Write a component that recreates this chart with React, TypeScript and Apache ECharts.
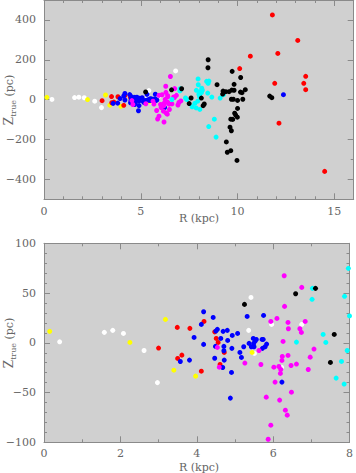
import React, { useEffect, useRef } from "react";
import * as echarts from "echarts";

type P = [number, number];

const white: P[] = [[0.41,1],[1.58,10.5],[1.8,12.5],[2.08,9.4],[2.62,-7.7],[2.97,-40],[5.42,45.6],[5.36,12.5],[5.51,-10.7],[5.96,18.5],[6.75,18.5],[6.22,-24.5],[6.8,144]];
const yellow: P[] = [[0.15,11.5],[2.25,0.4],[3.18,23.5],[3.4,-27.5],[3.97,-33.5],[5.45,-9.7]];
const red: P[] = [[3.0,-5.3],[3.49,15.5],[3.82,14.5],[4.19,21.5],[4.47,11],[4.51,4.4],[4.56,0.4],[4.72,-9.7],[3.5,-15.7],[3.61,-12.4],[4.12,-28.5],[4.61,-21.8],[10.11,156],[10.66,218],[11.8,425],[12.08,232],[13.11,297],[13.52,117],[13.42,82],[11.92,82],[13.52,50],[12.14,-118],[14.5,-360]];
const blue: P[] = [[4.18,31.2],[4.12,18.5],[4.43,25.5],[3.93,5.4],[4.18,-1.6],[4.5,11.8],[4.54,13.5],[4.69,11.5],[4.8,12.5],[4.63,4.4],[4.81,2.4],[4.93,7.4],[5.07,9.4],[5.32,26.5],[5.75,27.5],[4.49,-3.6],[4.71,-3.6],[4.71,-8],[4.92,-5.6],[5.13,-9.7],[5.17,-14.7],[5.23,-4],[5.37,-0.6],[5.49,-0.6],[5.43,-4],[5.5,-4],[5.48,4.4],[5.53,1.7],[5.56,3.4],[5.71,3.4],[5.74,3.4],[5.83,-1.3],[5.79,-4],[5.72,-5.6],[3.57,-18.8],[3.81,-17.4],[4.47,-15.5],[4.68,-24.8],[4.72,-17.4],[4.91,-29.8],[4.88,-55.6],[6.23,-39.5],[12.37,25]];
const magenta: P[] = [[4.54,-4.6],[6.29,67.4],[6.75,55.7],[6.3,36.6],[6.1,24.5],[5.94,21.5],[6.39,20.5],[6.4,14.1],[6.7,14.1],[6.74,10.4],[6.84,21.5],[6.26,1.4],[7.07,-6.3],[4.59,-24.5],[5.26,-20.4],[5.63,-7.7],[5.68,-21.8],[6.02,-24.5],[6.15,-23.8],[6.24,-13.7],[6.23,-17.7],[6.39,-12.7],[6.2,-26.8],[6.19,-30.8],[6.47,-22.8],[6.61,-21.4],[6.97,-14.4],[6.92,-26.8],[6.05,-39.5],[6.48,-49.6],[5.82,-54.6],[6.17,-57.6],[6.32,-67.7],[6.37,-72.7],[5.94,-82.8],[5.87,-96.9],[6.53,116],[6.2,-112]];
const cyan: P[] = [[6.61,0.7],[7.03,54.7],[7.02,43.7],[7.31,8.4],[7.38,0.4],[7.87,46.7],[7.97,74.8],[7.94,-7.7],[7.79,-18.7],[7.65,-35.5],[7.86,-41.5],[7.96,104],[8.4,92],[8.48,82],[8.52,93],[8.05,40],[8.18,47],[8.13,35],[8.0,27],[8.04,15],[8.15,57],[8.46,33],[8.67,13],[9.1,8],[9.27,25],[8.05,-49],[8.8,-98],[8.51,-135],[8.89,-188]];
const black: P[] = [[5.25,38.6],[6.59,49.3],[7.11,54.7],[7.6,8.4],[7.5,-19.7],[8.13,8],[8.22,-30],[8.28,-22],[8.48,200],[8.47,160],[8.94,75],[9.72,142],[10.16,111],[9.82,77],[9.25,43],[9.39,40],[9.56,40],[9.7,48],[9.82,47],[9.23,28],[10.15,38],[10.23,35],[10.4,50],[11.66,18],[11.77,10],[9.68,2],[9.78,2],[10.0,-4],[10.27,2],[10.0,-44],[9.85,-68],[9.9,-77],[9.99,-88],[9.65,-98],[9.75,-99],[9.61,-138],[9.68,-156],[9.42,-212],[9.65,-256],[9.47,-264],[9.97,-305]];

const groups: { data: P[]; color: string }[] = [
  { data: white, color: "#ffffff" },
  { data: yellow, color: "#ffff00" },
  { data: red, color: "#ff0000" },
  { data: blue, color: "#0000ff" },
  { data: magenta, color: "#ff00ff" },
  { data: cyan, color: "#00ffff" },
  { data: black, color: "#000000" },
];

// panel axis definitions
const topXMajor = [0, 5, 10, 15];
const topXMinor = [1, 2, 3, 4, 6, 7, 8, 9, 11, 12, 13, 14, 16];
const topYMajor = [-400, -200, 0, 200, 400];
const topYMinor = [-500, -300, -100, 100, 300, 500];
const botXMajor = [0, 2, 4, 6, 8];
const botXMinor = [1, 3, 5, 7];
const botYMajor = [-100, -50, 0, 50, 100];
const botYMinor = [-90, -80, -70, -60, -40, -30, -20, -10, 10, 20, 30, 40, 60, 70, 80, 90];

const FONT = "DejaVu Serif";
const TXT = "#666666";
const LINE = "#8a8a8a";

const fmt = (v: number) => (v < 0 ? "\u2212" + Math.abs(v) : String(v));

function makeAxes(
  dim: "x" | "y",
  gridIndex: number,
  min: number,
  max: number,
  major: number[],
  minor: number[],
  labelMargin: number
) {
  const sides = dim === "x" ? ["bottom", "top"] : ["left", "right"];
  const axes: any[] = [];
  sides.forEach((pos, si) => {
    axes.push({
      type: "value",
      gridIndex,
      position: pos,
      min,
      max,
      axisLine: { show: true, onZero: false, lineStyle: { color: LINE, width: 1 } },
      axisTick: { show: true, inside: true, length: 6, customValues: major, lineStyle: { color: LINE } },
      axisLabel: {
        show: si === 0,
        customValues: major,
        formatter: fmt,
        margin: labelMargin,
        fontFamily: FONT,
        fontSize: 11,
        color: TXT,
      },
      splitLine: { show: false },
    });
    axes.push({
      type: "value",
      gridIndex,
      position: pos,
      min,
      max,
      axisLine: { show: false, onZero: false },
      axisTick: { show: true, inside: true, length: 3, customValues: minor, lineStyle: { color: LINE } },
      axisLabel: { show: false },
      splitLine: { show: false },
    });
  });
  return axes;
}

export default function App() {
  const ref = useRef<HTMLDivElement>(null);
  useEffect(() => {
    if (!ref.current) return;
    const chart = echarts.init(ref.current, undefined, { renderer: "svg" });
    const xAxis = [
      ...makeAxes("x", 0, 0, 16, topXMajor, topXMinor, 7),
      ...makeAxes("x", 1, 0, 8, botXMajor, botXMinor, 6),
    ];
    const yAxis = [
      ...makeAxes("y", 0, -500, 500, topYMajor, topYMinor, 8),
      ...makeAxes("y", 1, -100, 100, botYMajor, botYMinor, 8),
    ];
    const series: any[] = [];
    [0, 1].forEach((g) => {
      groups.forEach((grp) => {
        series.push({
          type: "scatter",
          xAxisIndex: g * 4,
          yAxisIndex: g * 4,
          data: grp.data,
          symbol: "circle",
          symbolSize: 5,
          clip: true,
          itemStyle: { color: grp.color, opacity: 1 },
          emphasis: { disabled: true },
          silent: true,
        });
      });
    });
    const nameStyle = (text: string) => ({
      text,
      fontFamily: FONT,
      fontSize: 11,
      fill: TXT,
      align: "center",
      verticalAlign: "middle",
    });
    const yName = (y: number) => ({
      type: "text",
      x: 9,
      y,
      rotation: Math.PI / 2,
      style: {
        text: "{z|Z}{s|true} {p|(pc)}",
        align: "center",
        verticalAlign: "middle",
        fill: TXT,
        rich: {
          z: { fontFamily: FONT, fontSize: 12, fill: TXT, lineHeight: 16, verticalAlign: "middle" },
          s: { fontFamily: FONT, fontSize: 8, fill: TXT, lineHeight: 16, verticalAlign: "bottom" },
          p: { fontFamily: FONT, fontSize: 11, fill: TXT, lineHeight: 16, verticalAlign: "middle" },
        },
      },
    });
    chart.setOption({
      animation: false,
      backgroundColor: "#ffffff",
      grid: [
        { left: 44, top: 0, width: 309.7, height: 199.3, show: true, backgroundColor: "#d0d0d0", borderWidth: 0 },
        { left: 44, top: 243.3, width: 309.7, height: 199, show: true, backgroundColor: "#d0d0d0", borderWidth: 0 },
      ],
      xAxis,
      yAxis,
      series,
      graphic: [
        { type: "text", x: 199, y: 218.5, style: nameStyle("R (kpc)") },
        { type: "text", x: 199, y: 467, style: nameStyle("R (kpc)") },
        yName(100),
        yName(343),
      ],
    });
    return () => chart.dispose();
  }, []);
  return (
    <div
      ref={ref}
      style={{ position: "fixed", left: 0, top: 0, width: 356, height: 473 }}
    />
  );
}
